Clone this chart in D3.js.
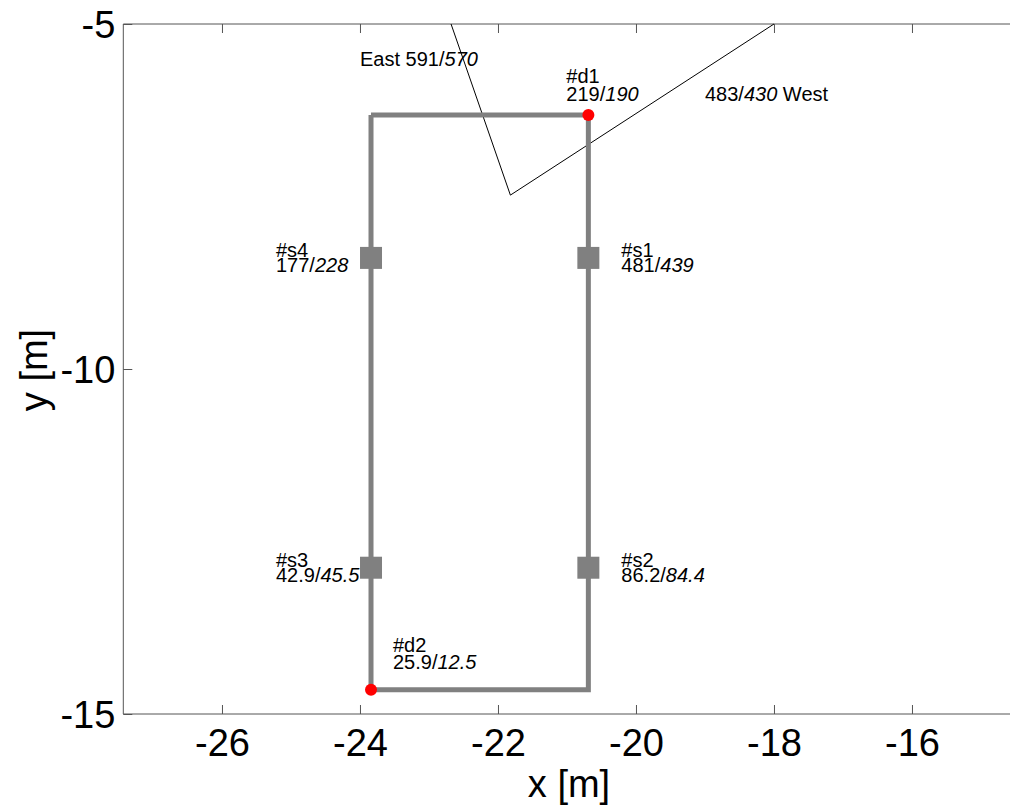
<!DOCTYPE html>
<html>
<head>
<meta charset="utf-8">
<script src="https://cdn.jsdelivr.net/npm/d3@7"></script>
<style>
  body { margin: 0; background: #fff; }
  svg { display: block; font-family: "Liberation Sans", Arial, sans-serif; }
</style>
</head>
<body>
<svg id="chart" width="1010" height="806"></svg>
<script>
// ---- data ----
const xTicks = [-26, -24, -22, -20, -18, -16];
const yTicks = [-15, -10, -5];
const xDomain = [-27.43, -14.55];
const yDomain = [-15, -5];

// building outline (loop)
const outlineX = [-23.84, -20.69, -20.69, -23.84, -23.84];
const outlineY = [-6.32, -6.32, -14.65, -14.65, -6.32];

// sensors (squares)
const sensorNames = ["#s1", "#s2", "#s3", "#s4"];
const sensorX = [-20.69, -20.69, -23.84, -23.84];
const sensorY = [-8.39, -12.88, -12.88, -8.39];
const sensorA = ["481", "86.2", "42.9", "177"];
const sensorB = ["439", "84.4", "45.5", "228"];

// doors (red dots)
const doorNames = ["#d1", "#d2"];
const doorX = [-20.69, -23.84];
const doorY = [-6.32, -14.65];
const doorA = ["219", "25.9"];
const doorB = ["190", "12.5"];

// wind direction line (East / West)
const windX = [-22.68, -21.82, -18.0];
const windY = [-5.0, -7.48, -5.0];
const windNames = ["East", "West"];
const windA = ["591", "483"];
const windB = ["570", "430"];

// ---- drawing ----
const svg = d3.select("#chart");
const mLeft = 123.3, mTop = 24;
const x = d3.scaleLinear().domain(xDomain).range([mLeft, mLeft + (xDomain[1] - xDomain[0]) * 69]);
const y = d3.scaleLinear().domain(yDomain).range([mTop + 690, mTop]);

const axisColor = "#555";
const gray = "#808080";
const fmt = d => String(d);

// frame lines (left, top, bottom)
const xr = x.range(), yr = y.range();
svg.append("line").attr("x1", xr[0]).attr("x2", xr[1]).attr("y1", yr[0]).attr("y2", yr[0]).attr("stroke", axisColor).attr("stroke-width", 1);
svg.append("line").attr("x1", xr[0]).attr("x2", xr[1]).attr("y1", yr[1]).attr("y2", yr[1]).attr("stroke", axisColor).attr("stroke-width", 1);
svg.append("line").attr("x1", xr[0]).attr("x2", xr[0]).attr("y1", yr[0]).attr("y2", yr[1]).attr("stroke", axisColor).attr("stroke-width", 1);

// axes with inward ticks
const xAxisB = d3.axisBottom(x).tickValues(xTicks).tickSizeInner(-9).tickSizeOuter(0).tickFormat(fmt);
const gxb = svg.append("g").attr("transform", `translate(0,${yr[0]})`).call(xAxisB);
const xAxisT = d3.axisTop(x).tickValues(xTicks).tickSizeInner(-9).tickSizeOuter(0).tickFormat("");
const gxt = svg.append("g").attr("transform", `translate(0,${yr[1]})`).call(xAxisT);
const yAxisL = d3.axisLeft(y).tickValues(yTicks).tickSizeInner(-9).tickSizeOuter(0).tickFormat(fmt);
const gyl = svg.append("g").attr("transform", `translate(${xr[0]},0)`).call(yAxisL);

[gxb, gxt, gyl].forEach(g => {
  g.select(".domain").remove();
  g.selectAll(".tick line").attr("stroke", axisColor);
  g.selectAll(".tick text").attr("fill", "#000").style("font-size", "38px").style("font-family", "'Liberation Sans', Arial, sans-serif");
});
gxb.selectAll(".tick text").attr("dy", "0.71em").attr("y", 15);
gyl.selectAll(".tick text").attr("x", -8).attr("dy", "0.35em");

// axis labels
svg.append("text").attr("x", 569).attr("y", 797).attr("text-anchor", "middle")
  .style("font-size", "38px").text("x [m]");
svg.append("text").attr("transform", "translate(47,370) rotate(-90)").attr("text-anchor", "middle")
  .style("font-size", "38px").text("y [m]");

// wind line
const line = d3.line().x(d => x(d[0])).y(d => y(d[1]));
svg.append("path").datum(windX.map((v, i) => [v, windY[i]]))
  .attr("d", line).attr("fill", "none").attr("stroke", "#000").attr("stroke-width", 1);

// outline
svg.append("path").datum(outlineX.map((v, i) => [v, outlineY[i]]))
  .attr("d", line).attr("fill", "none").attr("stroke", gray).attr("stroke-width", 5).attr("stroke-linejoin", "miter");

// sensors
const sq = 22;
svg.selectAll("rect.sensor").data(sensorNames).enter().append("rect")
  .attr("x", (d, i) => x(sensorX[i]) - sq / 2).attr("y", (d, i) => y(sensorY[i]) - sq / 2)
  .attr("width", sq).attr("height", sq).attr("fill", gray);

// doors
svg.selectAll("circle.door").data(doorNames).enter().append("circle")
  .attr("cx", (d, i) => x(doorX[i])).attr("cy", (d, i) => y(doorY[i])).attr("r", 6).attr("fill", "#ff0000");

// label helper: two-line label
function twoLine(px, py, name, a, b, dyLine, fs) {
  const t = svg.append("text").attr("x", px).attr("y", py).style("font-size", fs + "px");
  t.append("tspan").attr("x", px).attr("y", py).text(name);
  const t2 = t.append("tspan").attr("x", px).attr("y", py + dyLine);
  t2.append("tspan").text(a + "/");
  t2.append("tspan").style("font-style", "italic").text(b);
}

const sensorOffX = [33, 33, -95, -95];
sensorNames.forEach((n, i) => {
  twoLine(x(sensorX[i]) + sensorOffX[i], y(sensorY[i]) - 1, n, sensorA[i], sensorB[i], 15.5, 20);
});
const doorOffX = [-22, 22], doorOffY = [-32, -38];
doorNames.forEach((n, i) => {
  twoLine(x(doorX[i]) + doorOffX[i], y(doorY[i]) + doorOffY[i], n, doorA[i], doorB[i], 17.5, 20);
});

// wind labels
const east = svg.append("text").attr("x", 360).attr("y", 65.5).style("font-size", "20px");
east.append("tspan").text(windNames[0] + " " + windA[0] + "/");
east.append("tspan").style("font-style", "italic").text(windB[0]);
const west = svg.append("text").attr("x", 705).attr("y", 101).style("font-size", "20px");
west.append("tspan").text(windA[1] + "/");
west.append("tspan").style("font-style", "italic").text(windB[1]);
west.append("tspan").text(" " + windNames[1]);
</script>
</body>
</html>
